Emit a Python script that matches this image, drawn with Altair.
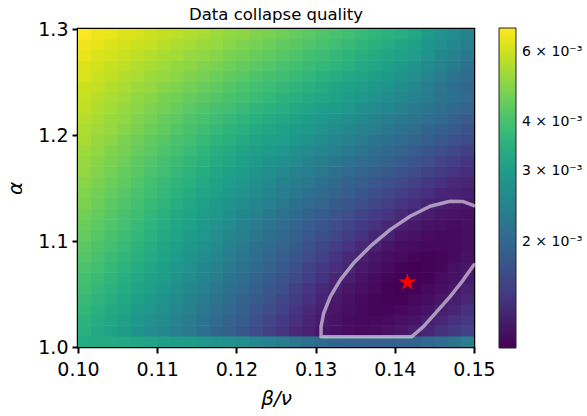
import altair as alt
import pandas as pd

# Scan window of the collapse fit
beta_nu_range = [0.10, 0.15]
alpha_range = [1.0, 1.3]

# Collapse quality S (units of 1e-3); one list per alpha row, bottom row first,
# 30 beta/nu columns from left to right
quality_rows = [
    [3.37, 3.34, 3.31, 3.28, 3.21, 3.16, 3.07, 3.01, 2.96, 2.87, 2.80, 2.72, 2.65, 2.54, 2.43, 2.32, 2.23, 2.13, 2.03, 1.96, 1.93, 1.90, 1.88, 1.88, 1.90, 1.93, 2.00, 2.08, 2.19, 2.36],
    [3.45, 3.29, 3.12, 2.96, 2.79, 2.64, 2.51, 2.35, 2.24, 2.10, 1.96, 1.86, 1.76, 1.64, 1.52, 1.42, 1.32, 1.27, 1.20, 1.17, 1.14, 1.13, 1.14, 1.17, 1.19, 1.25, 1.30, 1.39, 1.45, 1.54],
    [3.55, 3.39, 3.23, 3.07, 2.91, 2.72, 2.59, 2.43, 2.31, 2.16, 2.05, 1.92, 1.82, 1.70, 1.57, 1.46, 1.39, 1.29, 1.21, 1.18, 1.14, 1.12, 1.12, 1.13, 1.16, 1.18, 1.25, 1.30, 1.39, 1.46],
    [3.67, 3.49, 3.33, 3.16, 3.00, 2.84, 2.68, 2.53, 2.37, 2.25, 2.11, 2.00, 1.87, 1.76, 1.65, 1.53, 1.42, 1.32, 1.26, 1.19, 1.15, 1.12, 1.10, 1.10, 1.12, 1.14, 1.18, 1.25, 1.30, 1.40],
    [3.77, 3.60, 3.43, 3.27, 3.10, 2.94, 2.77, 2.62, 2.45, 2.33, 2.19, 2.06, 1.93, 1.83, 1.71, 1.59, 1.49, 1.39, 1.29, 1.21, 1.17, 1.13, 1.10, 1.09, 1.09, 1.12, 1.14, 1.19, 1.26, 1.31],
    [3.89, 3.71, 3.54, 3.37, 3.21, 3.04, 2.88, 2.70, 2.55, 2.40, 2.27, 2.13, 2.01, 1.88, 1.77, 1.66, 1.54, 1.43, 1.33, 1.27, 1.19, 1.15, 1.12, 1.09, 1.08, 1.09, 1.12, 1.15, 1.20, 1.27],
    [3.96, 3.81, 3.64, 3.47, 3.30, 3.14, 2.98, 2.79, 2.64, 2.50, 2.34, 2.20, 2.08, 1.94, 1.84, 1.72, 1.62, 1.51, 1.41, 1.30, 1.25, 1.18, 1.13, 1.10, 1.08, 1.08, 1.09, 1.13, 1.17, 1.21],
    [4.08, 3.92, 3.74, 3.56, 3.39, 3.22, 3.06, 2.90, 2.72, 2.57, 2.42, 2.28, 2.14, 2.03, 1.89, 1.80, 1.67, 1.55, 1.45, 1.38, 1.29, 1.21, 1.17, 1.13, 1.09, 1.08, 1.09, 1.10, 1.16, 1.19],
    [4.20, 4.00, 3.84, 3.66, 3.48, 3.31, 3.15, 2.99, 2.81, 2.66, 2.52, 2.35, 2.21, 2.09, 1.95, 1.86, 1.75, 1.64, 1.53, 1.43, 1.33, 1.27, 1.20, 1.15, 1.13, 1.10, 1.09, 1.10, 1.13, 1.17],
    [4.32, 4.12, 3.95, 3.76, 3.58, 3.40, 3.23, 3.07, 2.91, 2.72, 2.59, 2.43, 2.31, 2.16, 2.04, 1.92, 1.82, 1.70, 1.59, 1.51, 1.42, 1.32, 1.27, 1.20, 1.15, 1.13, 1.12, 1.12, 1.13, 1.15],
    [4.40, 4.23, 4.03, 3.87, 3.68, 3.50, 3.32, 3.16, 3.00, 2.84, 2.67, 2.53, 2.37, 2.25, 2.11, 2.00, 1.87, 1.78, 1.68, 1.58, 1.50, 1.41, 1.31, 1.27, 1.20, 1.17, 1.14, 1.13, 1.13, 1.15],
    [4.52, 4.34, 4.14, 3.97, 3.77, 3.59, 3.41, 3.24, 3.08, 2.92, 2.76, 2.61, 2.45, 2.33, 2.19, 2.08, 1.95, 1.85, 1.77, 1.66, 1.57, 1.49, 1.41, 1.31, 1.27, 1.21, 1.18, 1.16, 1.14, 1.16],
    [4.64, 4.43, 4.24, 4.04, 3.88, 3.68, 3.50, 3.33, 3.17, 3.01, 2.87, 2.70, 2.55, 2.41, 2.28, 2.15, 2.05, 1.93, 1.84, 1.76, 1.66, 1.57, 1.49, 1.42, 1.33, 1.28, 1.24, 1.20, 1.18, 1.17],
    [4.78, 4.54, 4.35, 4.14, 3.94, 3.77, 3.60, 3.41, 3.25, 3.09, 2.94, 2.79, 2.64, 2.51, 2.37, 2.26, 2.13, 2.03, 1.92, 1.84, 1.76, 1.66, 1.58, 1.51, 1.42, 1.37, 1.29, 1.26, 1.21, 1.20],
    [4.84, 4.65, 4.43, 4.25, 4.04, 3.88, 3.70, 3.51, 3.35, 3.19, 3.05, 2.90, 2.75, 2.61, 2.49, 2.35, 2.24, 2.12, 2.03, 1.92, 1.85, 1.77, 1.68, 1.59, 1.52, 1.44, 1.38, 1.31, 1.28, 1.26],
    [4.96, 4.78, 4.54, 4.37, 4.14, 3.95, 3.80, 3.63, 3.46, 3.29, 3.14, 2.99, 2.85, 2.71, 2.59, 2.44, 2.34, 2.24, 2.12, 2.03, 1.93, 1.86, 1.78, 1.70, 1.62, 1.54, 1.45, 1.40, 1.33, 1.29],
    [5.09, 4.85, 4.66, 4.44, 4.28, 4.06, 3.91, 3.72, 3.56, 3.39, 3.24, 3.09, 2.97, 2.81, 2.70, 2.58, 2.44, 2.34, 2.25, 2.13, 2.04, 1.94, 1.87, 1.80, 1.71, 1.64, 1.55, 1.49, 1.42, 1.37],
    [5.14, 4.96, 4.73, 4.56, 4.35, 4.17, 3.97, 3.84, 3.66, 3.50, 3.35, 3.21, 3.07, 2.94, 2.81, 2.70, 2.59, 2.45, 2.36, 2.27, 2.15, 2.08, 2.00, 1.89, 1.82, 1.75, 1.66, 1.57, 1.50, 1.43],
    [5.26, 5.10, 4.87, 4.69, 4.47, 4.30, 4.11, 3.95, 3.79, 3.63, 3.47, 3.33, 3.19, 3.07, 2.96, 2.84, 2.71, 2.60, 2.51, 2.39, 2.30, 2.19, 2.10, 2.02, 1.92, 1.85, 1.77, 1.68, 1.59, 1.52],
    [5.42, 5.15, 5.01, 4.76, 4.59, 4.38, 4.23, 4.05, 3.92, 3.75, 3.59, 3.46, 3.33, 3.19, 3.08, 2.98, 2.87, 2.73, 2.62, 2.52, 2.40, 2.31, 2.20, 2.12, 2.04, 1.94, 1.86, 1.80, 1.70, 1.62],
    [5.47, 5.29, 5.15, 4.90, 4.75, 4.54, 4.38, 4.19, 4.02, 3.89, 3.74, 3.59, 3.46, 3.33, 3.22, 3.10, 3.00, 2.89, 2.76, 2.63, 2.54, 2.43, 2.34, 2.25, 2.14, 2.06, 1.96, 1.88, 1.81, 1.72],
    [5.61, 5.42, 5.21, 5.07, 4.83, 4.68, 4.48, 4.34, 4.16, 4.01, 3.89, 3.74, 3.62, 3.49, 3.37, 3.25, 3.13, 3.02, 2.92, 2.79, 2.68, 2.58, 2.45, 2.36, 2.27, 2.18, 2.09, 2.01, 1.91, 1.83],
    [5.75, 5.51, 5.34, 5.14, 4.99, 4.80, 4.65, 4.46, 4.32, 4.16, 4.02, 3.91, 3.79, 3.65, 3.52, 3.40, 3.29, 3.17, 3.06, 2.96, 2.84, 2.71, 2.60, 2.51, 2.39, 2.30, 2.19, 2.11, 2.02, 1.92],
    [5.82, 5.67, 5.43, 5.27, 5.08, 4.95, 4.74, 4.62, 4.44, 4.33, 4.19, 4.05, 3.95, 3.82, 3.70, 3.56, 3.43, 3.32, 3.21, 3.10, 2.99, 2.88, 2.75, 2.63, 2.53, 2.41, 2.32, 2.20, 2.12, 2.03],
    [5.97, 5.83, 5.60, 5.45, 5.24, 5.15, 4.97, 4.79, 4.66, 4.50, 4.38, 4.22, 4.07, 3.94, 3.85, 3.72, 3.60, 3.48, 3.35, 3.24, 3.14, 3.02, 2.90, 2.77, 2.66, 2.54, 2.35, 2.22, 2.10, 1.98],
    [6.16, 5.91, 5.77, 5.55, 5.43, 5.24, 5.16, 4.98, 4.81, 4.71, 4.54, 4.38, 4.26, 4.12, 3.98, 3.88, 3.76, 3.64, 3.51, 3.40, 3.29, 3.18, 3.05, 2.93, 2.79, 2.68, 2.48, 2.33, 2.20, 2.07],
    [6.23, 6.12, 5.88, 5.75, 5.55, 5.44, 5.26, 5.09, 5.01, 4.83, 4.74, 4.57, 4.43, 4.32, 4.17, 4.04, 3.95, 3.83, 3.70, 3.57, 3.45, 3.33, 3.21, 3.06, 2.94, 2.81, 2.60, 2.45, 2.30, 2.16],
    [6.46, 6.21, 6.10, 5.88, 5.77, 5.60, 5.42, 5.34, 5.14, 5.06, 4.90, 4.74, 4.64, 4.48, 4.37, 4.23, 4.10, 3.95, 3.85, 3.72, 3.59, 3.47, 3.34, 3.23, 3.10, 2.98, 2.74, 2.57, 2.42, 2.26],
    [6.56, 6.44, 6.22, 6.12, 5.91, 5.83, 5.64, 5.47, 5.39, 5.21, 5.14, 4.94, 4.80, 4.68, 4.54, 4.38, 4.29, 4.14, 4.01, 3.89, 3.75, 3.63, 3.49, 3.37, 3.24, 3.10, 2.86, 2.67, 2.52, 2.35],
    [6.88, 6.57, 6.45, 6.25, 6.18, 5.97, 5.80, 5.71, 5.54, 5.42, 5.24, 5.08, 5.01, 4.85, 4.74, 4.58, 4.42, 4.31, 4.16, 4.03, 3.92, 3.77, 3.65, 3.51, 3.40, 3.26, 3.00, 2.80, 2.62, 2.45],
]

# Colour range of the quality map (units of 1e-3)
quality_limits = [1.08, 6.88]
colorbar_ticks = [0.002, 0.003, 0.004, 0.006]

# Confidence contour around the optimum, traced as an open path
contour_beta_nu = [0.1500, 0.14865, 0.14698, 0.14530, 0.14361, 0.14215, 0.13069, 0.13069,
                   0.13102, 0.13186, 0.13312, 0.13480, 0.13690, 0.13942, 0.14194, 0.14446,
                   0.14698, 0.14865, 0.1500]
contour_alpha = [1.0776, 1.0634, 1.0476, 1.0334, 1.0192, 1.00975, 1.00975, 1.0192,
                 1.0319, 1.0476, 1.0634, 1.0792, 1.0949, 1.1107, 1.1233, 1.1328,
                 1.1375, 1.1372, 1.1334]

# Best collapse
best_beta_nu = [0.1416]
best_alpha = [1.061]

x_ticks = [0.10, 0.11, 0.12, 0.13, 0.14, 0.15]
y_ticks = [1.0, 1.1, 1.2, 1.3]

FONT = "DejaVu Sans"
STAR = ("M0,-1L0.2245,-0.309L0.9511,-0.309L0.3633,0.118L0.5878,0.809L0,0.382"
        "L-0.5878,0.809L-0.3633,0.118L-0.9511,-0.309L-0.2245,-0.309Z")

n_rows = len(quality_rows)
n_cols = len(quality_rows[0])
dx = (beta_nu_range[1] - beta_nu_range[0]) / n_cols
dy = (alpha_range[1] - alpha_range[0]) / n_rows
# cells are drawn a hair oversize so neighbouring rects leave no hairline gaps
bleed = 1.06

cells = []
for j, row in enumerate(quality_rows):
    for i, val in enumerate(row):
        cells.append({
            "b0": beta_nu_range[0] + i * dx,
            "b1": beta_nu_range[0] + (i + bleed) * dx,
            "a0": alpha_range[0] + j * dy,
            "a1": alpha_range[0] + (j + bleed) * dy,
            "S": val * 1e-3,
        })
grid = pd.DataFrame(cells)

contour = pd.DataFrame({
    "b": contour_beta_nu,
    "a": contour_alpha,
    "k": list(range(len(contour_alpha))),
})
best = pd.DataFrame({"b": best_beta_nu, "a": best_alpha})

x_scale = alt.Scale(domain=beta_nu_range, nice=False, zero=False)
y_scale = alt.Scale(domain=alpha_range, nice=False, zero=False)
c_domain = [v * 1e-3 for v in quality_limits]

heat = alt.Chart(grid).mark_rect(clip=True).encode(
    x=alt.X("b0:Q", scale=x_scale,
            axis=alt.Axis(values=x_ticks, format=".2f", title="β/ν",
                          titleFontStyle="italic", titlePadding=9,
                          labelPadding=7, labelFlush=False)),
    x2="b1:Q",
    y=alt.Y("a0:Q", scale=y_scale,
            axis=alt.Axis(values=y_ticks, format=".1f", title="α",
                          titleFontStyle="italic", titlePadding=12,
                          labelPadding=4, labelFlush=False)),
    y2="a1:Q",
    color=alt.Color("S:Q",
                    scale=alt.Scale(type="log", scheme="viridis", domain=c_domain),
                    legend=alt.Legend(
                        type="gradient",
                        title=None, orient="none", legendX=421, legendY=-1,
                        direction="vertical", gradientLength=320,
                        gradientThickness=17, gradientStrokeColor="#222222",
                        gradientStrokeWidth=1, values=colorbar_ticks,
                        labelExpr="format(datum.value * 1000, '.0f') + ' × 10⁻³'",
                        labelFont=FONT, labelFontSize=14, labelOffset=6,
                        labelColor="black", padding=0)),
)

ring = alt.Chart(contour).mark_line(
    color="white", opacity=0.55, strokeWidth=3.5,
    strokeCap="round", strokeJoin="round",
).encode(
    x=alt.X("b:Q", scale=x_scale),
    y=alt.Y("a:Q", scale=y_scale),
    order="k:Q",
)

star = alt.Chart(best).mark_point(
    shape=STAR, filled=True, color="red", size=338, opacity=1, strokeWidth=0,
).encode(
    x=alt.X("b:Q", scale=x_scale),
    y=alt.Y("a:Q", scale=y_scale),
)

chart = alt.layer(heat, ring, star).properties(
    width=396,
    height=318,
    padding={"left": 78, "top": 29, "right": 113, "bottom": 69},
    autosize=alt.AutoSizeParams(type="none"),
    title=alt.TitleParams("Data collapse quality", font=FONT, fontSize=16.5,
                          fontWeight="normal", color="black", offset=-3),
).configure_view(
    stroke="black", strokeWidth=2.5,
).configure_axis(
    domain=False, grid=False, tickColor="black", tickWidth=2, tickSize=6,
    labelFont=FONT, labelFontSize=19, labelColor="black",
    titleFont=FONT, titleFontSize=20, titleFontWeight="normal", titleColor="black",
)

chart.save("out.html", embed_options={"renderer": "svg", "actions": False})
